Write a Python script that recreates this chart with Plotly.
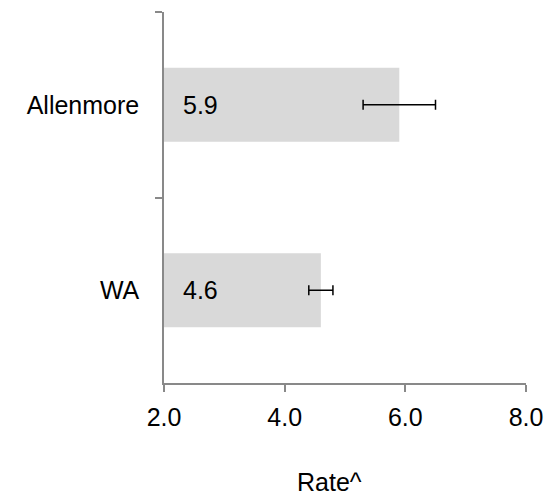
import plotly.graph_objects as go

# data
areas = ["Allenmore", "WA"]
rates = [5.9, 4.6]
rate_err = [0.6, 0.2]
x_ticks = [2, 4, 6, 8]
x_title = "Rate^"

FONT = "Liberation Sans, Arial, sans-serif"
AXIS_GREY = "#898989"

# the page body adds an 8px margin, so the figure is 8px smaller
W, H = 544, 490
L, R, T, B = 156, 26, 4, 115
plot_w = W - L - R
plot_h = H - T - B

fig = go.Figure()
fig.add_trace(go.Bar(
        x=rates,
        y=areas,
        orientation="h",
        width=0.4,
        marker=dict(color="#d9d9d9", line=dict(width=0)),
        error_x=dict(type="data", array=rate_err, visible=True,
                     color="black", thickness=1.5, width=5),
        base=0,
        hoverinfo="skip",
))

# value labels sitting just inside the bar base
for area, r in zip(areas, rates):
        fig.add_annotation(x=x_ticks[0], y=area, text=f"{r:.1f}", xanchor="left",
                           xshift=17, showarrow=False,
                           font=dict(family=FONT, size=25, color="black"))

# axis title, placed from its pixel spot below the plot
fig.add_annotation(x=(321 - L) / plot_w, y=(H - B - 474) / plot_h,
                   xref="paper", yref="paper", text=x_title,
                   showarrow=False, xanchor="center", yanchor="middle",
                   font=dict(family=FONT, size=25, color="black"))

fig.update_xaxes(
        range=[x_ticks[0], x_ticks[-1]],
        tickvals=x_ticks,
        tickformat=".1f",
        showgrid=False,
        zeroline=False,
        showline=True,
        linecolor=AXIS_GREY,
        linewidth=1.5,
        ticks="outside",
        ticklen=7,
        tickwidth=1.5,
        tickcolor=AXIS_GREY,
        ticklabelstandoff=4,
        tickfont=dict(family=FONT, size=25, color="black"),
)
fig.update_yaxes(
        type="category",
        autorange="reversed",
        showgrid=False,
        showline=True,
        linecolor=AXIS_GREY,
        linewidth=1.5,
        ticks="outside",
        tickson="boundaries",
        ticklen=7,
        tickwidth=1.5,
        tickcolor=AXIS_GREY,
        ticklabelstandoff=18,
        tickfont=dict(family=FONT, size=25, color="black"),
)

fig.update_layout(
        width=W,
        height=H,
        margin=dict(l=L, r=R, t=T, b=B),
        plot_bgcolor="white",
        paper_bgcolor="white",
        showlegend=False,
        bargap=0.6,
)

fig.write_html("out.html")
